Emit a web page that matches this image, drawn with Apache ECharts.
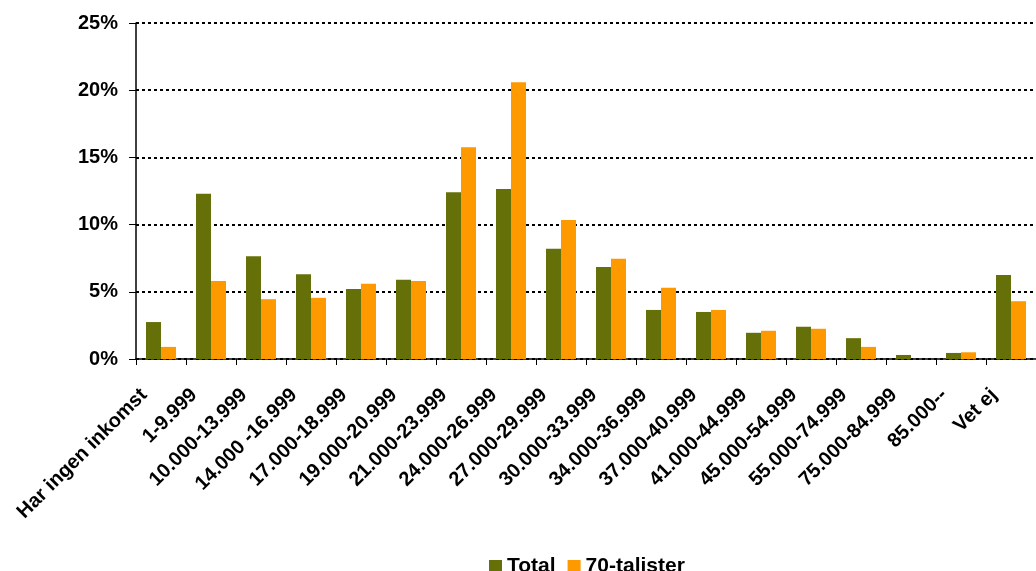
<!DOCTYPE html>
<html>
<head>
<meta charset="utf-8">
<script src="https://cdn.jsdelivr.net/npm/echarts@6/dist/echarts.min.js"></script>
<style>
  html, body { margin: 0; padding: 0; background: #fff; }
  #chart { width: 1036px; height: 571px; }
</style>
</head>
<body>
<div id="chart"></div>
<script>
const categories = [
  'Har ingen inkomst', '1-9.999', '10.000-13.999', '14.000 -16.999', '17.000-18.999',
  '19.000-20.999', '21.000-23.999', '24.000-26.999', '27.000-29.999', '30.000-33.999',
  '34.000-36.999', '37.000-40.999', '41.000-44.999', '45.000-54.999', '55.000-74.999',
  '75.000-84.999', '85.000--', 'Vet ej'
]
const totalValues = [2.75, 12.3, 7.65, 6.3, 5.2, 5.9, 12.4, 12.65, 8.2, 6.85, 3.65, 3.5, 1.95, 2.4, 1.55, 0.3, 0.45, 6.25]
const talister70Values = [0.9, 5.8, 4.45, 4.55, 5.6, 5.8, 15.75, 20.6, 10.35, 7.45, 5.3, 3.65, 2.1, 2.25, 0.9, 0, 0.5, 4.3]
const yTicks = [0, 5, 10, 15, 20, 25]

const font = '"Liberation Sans", Arial, sans-serif'
const chart = echarts.init(document.getElementById('chart'), undefined, { renderer: 'canvas' })

chart.setOption({
  backgroundColor: '#fff',
  animation: false,
  grid: { left: 136, right: 0, top: 23, bottom: 212, containLabel: false },
  legend: {
    top: 551,
    left: 484,
    itemWidth: 13,
    itemHeight: 13,
    itemGap: 12,
    icon: 'rect',
    textStyle: { fontFamily: font, fontWeight: 'bold', fontSize: 21, color: '#000' },
    data: ['Total', '70-talister'],
  },
  xAxis: {
    type: 'category',
    data: categories,
    axisLine: { show: true, lineStyle: { color: '#000', width: 1.5 } },
    axisTick: { show: true, interval: 0, length: 6, lineStyle: { color: '#000' } },
    axisLabel: {
      interval: 0,
      rotate: 45,
      margin: 16,
      padding: [0, 24, 0, 0],
      color: '#000',
      fontFamily: font,
      fontWeight: 'bold',
      fontSize: 20,
    },
  },
  yAxis: {
    type: 'value',
    min: yTicks[0],
    max: yTicks[yTicks.length - 1],
    interval: 5,
    axisLine: { show: true, lineStyle: { color: '#000', width: 1.5 } },
    axisTick: { show: true, inside: false, length: 7, lineStyle: { color: '#000' } },
    axisLabel: {
      color: '#000',
      fontFamily: font,
      fontWeight: 'bold',
      fontSize: 20,
      margin: 18,
      formatter: (v) => `${v}%`,
    },
    splitLine: { show: true, lineStyle: { color: '#000', type: [3, 3], width: 2 } },
  },
  series: [
    {
      name: 'Total',
      type: 'bar',
      data: totalValues,
      itemStyle: { color: '#667009' },
      barGap: '0%',
      barCategoryGap: '40%',
    },
    {
      name: '70-talister',
      type: 'bar',
      data: talister70Values,
      itemStyle: { color: '#FF9900' },
    },
  ],
})
</script>
</body>
</html>
